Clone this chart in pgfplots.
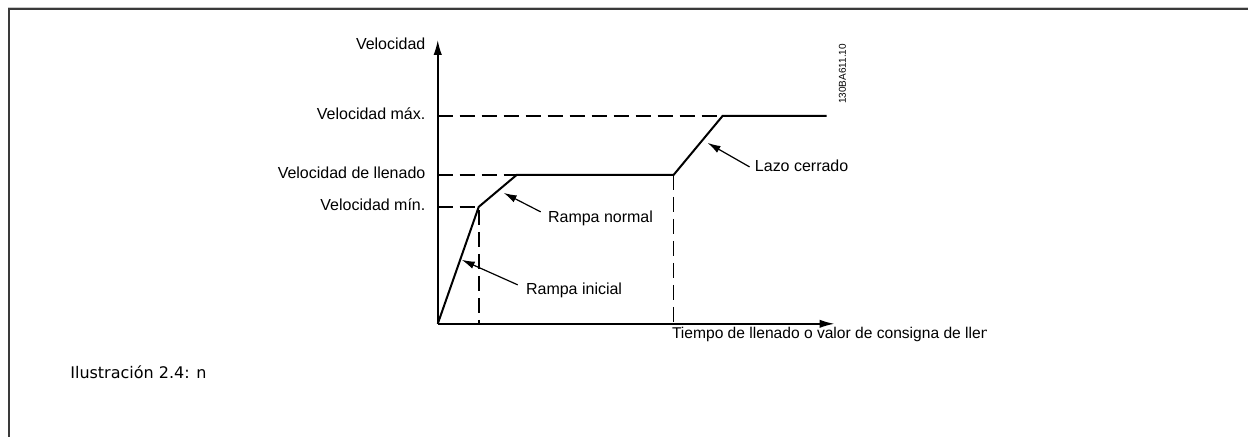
\documentclass[border=0pt]{standalone}
\usepackage{fontspec}
\setmainfont{Liberation Sans}
\newfontfamily\capfont{DejaVu Sans}
\usepackage{pgfplots}
\pgfplotsset{compat=1.18}
\usetikzlibrary{arrows.meta}
\definecolor{framegrey}{HTML}{3A3A3A}
\definecolor{shadegrey}{HTML}{C8C8C8}

\begin{document}
\begin{tikzpicture}
\begin{axis}[
  x=0.5pt,y=0.5pt,
  xmin=0,xmax=397,ymin=0,ymax=284,
  axis lines=left,
  axis line style={line width=0.8pt,-{Latex[length=7.5pt,width=4.2pt]}},
  xtick=\empty,ytick=\empty,
  clip=false,
  font=\fontsize{8}{9.6}\selectfont]
% page extent and frame
\path (axis cs:-438,-113) rectangle (axis cs:811,324);
\draw[shadegrey,line width=0.6pt] (axis cs:-430,316.2) -- (axis cs:811,316.2);
\draw[framegrey,line width=0.7pt] (axis cs:-429,-113) -- (axis cs:-429,315) -- (axis cs:811,315);
% reference levels
\addplot[black,line width=0.8pt,dash pattern=on 7.5pt off 3.5pt] coordinates {(0,117) (41,117) (41,0)};
\addplot[black,line width=0.8pt,dash pattern=on 7.5pt off 3.5pt] coordinates {(0,149) (79,149)};
\addplot[black,line width=0.8pt,dash pattern=on 7.5pt off 3.5pt] coordinates {(0,208) (285,208)};
\addplot[black,line width=0.8pt,dash pattern=on 7.5pt off 3.5pt] coordinates {(236,149) (236,0)};
% speed profile
\addplot[black,line width=1pt,line join=miter] coordinates {
  (0,0) (41,117) (79,149) (236,149) (285,208) (389,208)};
% labels
\node[anchor=base east,inner sep=0pt] at (axis cs:-12,274) {Velocidad};
\node[anchor=base east,inner sep=0pt] at (axis cs:-12,204) {Velocidad máx.};
\node[anchor=base east,inner sep=0pt] at (axis cs:-12,145) {Velocidad de llenado};
\node[anchor=base east,inner sep=0pt] at (axis cs:-12,113) {Velocidad mín.};
\node[anchor=base west,inner sep=0pt] at (axis cs:110,101) {Rampa normal};
\node[anchor=base west,inner sep=0pt] at (axis cs:88,29) {Rampa inicial};
\node[anchor=base west,inner sep=0pt] at (axis cs:317,152) {Lazo cerrado};
\begin{scope}
\clip (axis cs:200,-40) rectangle (axis cs:549,-2);
\node[anchor=base west,inner sep=0pt,font=\fontsize{7.8}{9.4}\selectfont] at (axis cs:234,-15) {Tiempo de llenado o valor de consigna de llenado};
\end{scope}
\node[rotate=90,inner sep=0pt,font=\fontsize{5}{6}\selectfont] at (axis cs:405,250) {130BA611.10};
\node[anchor=base west,inner sep=0pt,font=\capfont\fontsize{8}{9.6}\selectfont] at (axis cs:-368,-55) {Ilustración 2.4: n};
% pointer arrows
\draw[line width=0.6pt,-{Latex[length=6.5pt,width=3.8pt]}] (axis cs:103,112) -- (axis cs:66,131);
\draw[line width=0.6pt,-{Latex[length=6.5pt,width=3.8pt]}] (axis cs:80,39) -- (axis cs:24,64);
\draw[line width=0.6pt,-{Latex[length=6.5pt,width=3.8pt]}] (axis cs:312,157) -- (axis cs:270,181);
\end{axis}
\end{tikzpicture}
\end{document}
